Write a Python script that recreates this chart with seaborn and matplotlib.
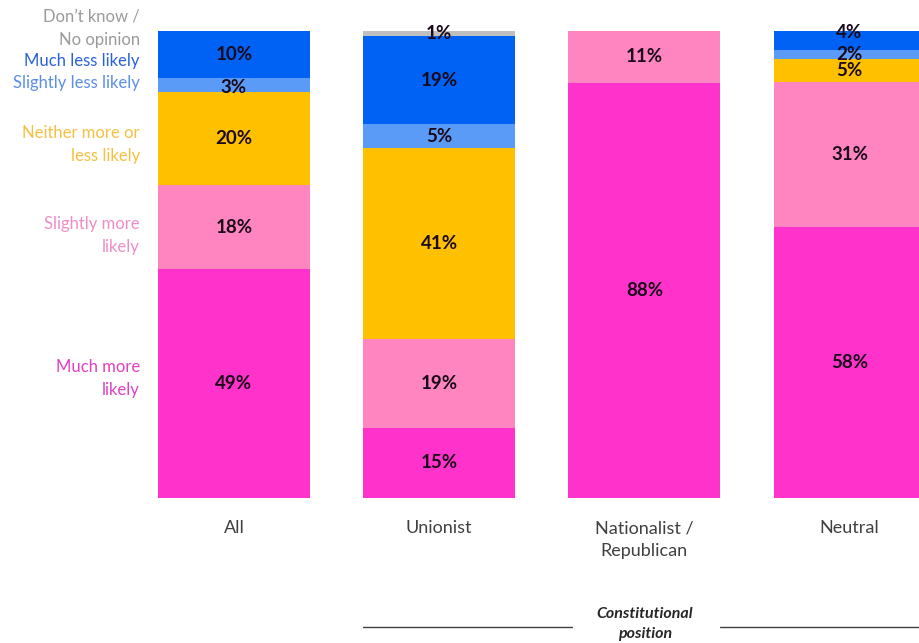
import matplotlib
matplotlib.use("Agg")
import matplotlib.pyplot as plt
from matplotlib.lines import Line2D
import seaborn as sns
import pandas as pd
import numpy as np

categories = ["All", "Unionist", "Nationalist /\nRepublican", "Neutral"]
responses = ["Much more likely", "Slightly more likely", "Neither more or less likely",
             "Slightly less likely", "Much less likely", "Don't know / No opinion"]
legend_labels = ["Much more\nlikely", "Slightly more\nlikely", "Neither more or\nless likely",
                 "Slightly less likely", "Much less likely", "Don\u2019t know /\nNo opinion"]
much_more = [49, 15, 88, 58]
slightly_more = [18, 19, 11, 31]
neither = [20, 41, 0, 5]
slightly_less = [3, 5, 0, 2]
much_less = [10, 19, 0, 4]
dont_know = [0, 1, 0, 0]

colors = ["#FF33CC", "#FF85C0", "#FFC000", "#5B9BF8", "#0062F5", "#BFBFBF"]
text_colors = ["#E040C4", "#F08CC8", "#F5C042", "#5A8FE6", "#2A62D8", "#9A9A9A"]

series = [much_more, slightly_more, neither, slightly_less, much_less, dont_know]
vals = np.array(series, dtype=float)
totals = vals.sum(axis=0)
shares = vals / totals * 100
cum = np.cumsum(shares, axis=0)

sns.set_theme(style="white")
plt.rcParams["font.family"] = ["Lato", "DejaVu Sans"]

fig = plt.figure(figsize=(9.2, 6.43), dpi=100)
ax = fig.add_axes([0, 145 / 643, 1, 467 / 643])
px_per_unit = 467 / 100.0

rows = []
for i, resp in enumerate(responses):
    for j, cat in enumerate(categories):
        rows.append({"category": cat, "response": resp, "top": cum[i, j]})
df = pd.DataFrame(rows)

width = 152 / 205.17
for i in reversed(range(len(responses))):
    sub = df[df["response"] == responses[i]]
    sns.barplot(data=sub, x="category", y="top", order=categories, color=colors[i],
                width=width, ax=ax, saturation=1, edgecolor="none", linewidth=0)

# small nudges (in pixels, upward) for crowded labels
nudge = {(4, 3): 8, (3, 0): -3}
for i in range(len(responses)):
    for j in range(len(categories)):
        v = series[i][j]
        if v <= 0:
            continue
        c = cum[i, j] - shares[i, j] / 2 + nudge.get((i, j), 0) / px_per_unit
        ax.text(j, c, f"{v}%", ha="center", va="center", fontsize=13.5,
                fontweight="bold", color="#1A0A1A")

# legend labels on left (pixel rows of their centres in the figure)
label_px = [378.5, 235.5, 144.5, 83, 61, 28.5]
label_x = (140 - 234) / 205.17
for i in range(len(responses)):
    ax.text(label_x, (498 - label_px[i]) / px_per_unit, legend_labels[i], ha="right",
            va="center", fontsize=12, color=text_colors[i], linespacing=1.55)

ax.set_xlim(-234 / 205.17, 3 + (920 - 849.5) / 205.17)
ax.set_ylim(0, 100)
ax.set_yticks([])
ax.set_xlabel("")
ax.set_ylabel("")
ax.set_xticks(range(len(categories)))
ax.set_xticklabels(categories, fontsize=13, color="#404040", linespacing=1.5)
ax.tick_params(axis="x", length=0, pad=16)
for s in ax.spines.values():
    s.set_visible(False)

fig.text(645 / 920, (643 - 624) / 643, "Constitutional\nposition", ha="center", va="center",
         fontsize=11.5, fontstyle="italic", fontweight="bold", color="#262626", linespacing=1.5)
ly = (643 - 627) / 643
fig.add_artist(Line2D([363 / 920, 572 / 920], [ly, ly], color="#404040", lw=1))
fig.add_artist(Line2D([720 / 920, 1.0], [ly, ly], color="#404040", lw=1))

fig.savefig("out.png", dpi=100)
